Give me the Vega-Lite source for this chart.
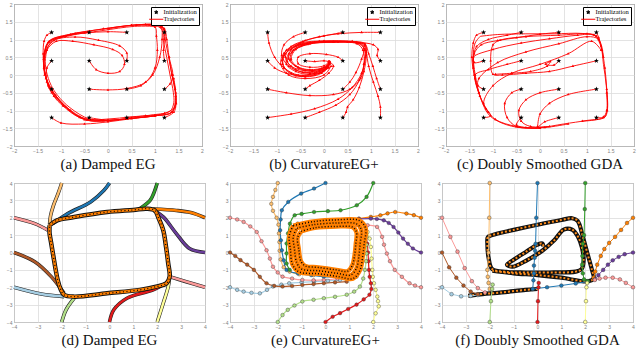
{
"$schema": "https://vega.github.io/schema/vega-lite/v6.json",
"padding": {"left": 1, "top": 1, "right": 0, "bottom": 0},
"background": "white",
"config": {
  "font": "Liberation Serif",
  "view": {"stroke": "#333333", "strokeWidth": 1},
  "axis": {"domain": false, "ticks": false, "tickSize": 0, "grid": true, "gridColor": "#dcdcdc", "gridWidth": 0.8, "labelFontSize": 5, "labelColor": "#808080", "labelPadding": 2, "labelFont": "Liberation Sans", "labelFlush": false, "labelOverlap": false, "format": "~g"},
  "title": {"orient": "bottom", "font": "Liberation Serif", "fontSize": 15, "fontWeight": "normal", "offset": 4, "color": "#111111"}
},
"datasets": {
"a": [
{"t":1,"i":0,"x":-1.2,"y":1.2},{"t":1,"i":1,"x":-1.3,"y":1.12},{"t":1,"i":2,"x":-1.36,"y":0.95},{"t":1,"i":3,"x":-1.38,"y":0.6},{"t":1,"i":4,"x":-1.36,"y":0.2},{"t":1,"i":5,"x":-1.27,"y":-0.3},{"t":1,"i":6,"x":-1.1,"y":-0.62},{"t":1,"i":7,"x":-0.84,"y":-0.97},{"t":1,"i":8,"x":-0.45,"y":-1.27},{"t":1,"i":9,"x":0,"y":-1.29},
{"t":2,"i":0,"x":-0.4,"y":1.2},{"t":2,"i":1,"x":-0.7,"y":1.17},{"t":2,"i":2,"x":-1.0,"y":1.07},{"t":2,"i":3,"x":-1.27,"y":0.92},{"t":2,"i":4,"x":-1.36,"y":0.5},{"t":2,"i":5,"x":-1.33,"y":0.0},{"t":2,"i":6,"x":-1.2,"y":-0.4},{"t":2,"i":7,"x":-0.9,"y":-0.9},{"t":2,"i":8,"x":-0.5,"y":-1.26},{"t":2,"i":9,"x":0.0,"y":-1.28},
{"t":3,"i":0,"x":0.4,"y":1.2},{"t":3,"i":1,"x":0.0,"y":1.22},{"t":3,"i":2,"x":-0.5,"y":1.18},{"t":3,"i":3,"x":-0.9,"y":1.1},{"t":3,"i":4,"x":-1.25,"y":0.93},{"t":3,"i":5,"x":-1.36,"y":0.5},{"t":3,"i":6,"x":-1.32,"y":-0.1},{"t":3,"i":7,"x":-1.12,"y":-0.58},{"t":3,"i":8,"x":-0.8,"y":-1.0},
{"t":4,"i":0,"x":1.2,"y":1.2},{"t":4,"i":1,"x":1.15,"y":1.35},{"t":4,"i":2,"x":1.0,"y":1.42},{"t":4,"i":3,"x":0.5,"y":1.4},{"t":4,"i":4,"x":-0.1,"y":1.3},{"t":4,"i":5,"x":-0.8,"y":1.14},{"t":4,"i":6,"x":-1.25,"y":0.95},{"t":4,"i":7,"x":-1.37,"y":0.45},
{"t":5,"i":0,"x":-1.2,"y":0.4},{"t":5,"i":1,"x":-1.3,"y":0.2},{"t":5,"i":2,"x":-1.3,"y":-0.2},{"t":5,"i":3,"x":-1.2,"y":-0.5},{"t":5,"i":4,"x":-0.95,"y":-0.85},{"t":5,"i":5,"x":-0.6,"y":-1.18},{"t":5,"i":6,"x":-0.1,"y":-1.28},{"t":5,"i":7,"x":0.5,"y":-1.22},
{"t":6,"i":0,"x":-0.4,"y":0.4},{"t":6,"i":1,"x":-0.25,"y":0.15},{"t":6,"i":2,"x":0.0,"y":0.05},{"t":6,"i":3,"x":0.25,"y":0.1},{"t":6,"i":4,"x":0.35,"y":0.3},{"t":6,"i":5,"x":0.3,"y":0.55},{"t":6,"i":6,"x":0.1,"y":0.72},{"t":6,"i":7,"x":-0.3,"y":0.85},{"t":6,"i":8,"x":-0.75,"y":0.95},{"t":6,"i":9,"x":-1.1,"y":0.95},{"t":6,"i":10,"x":-1.3,"y":0.7},{"t":6,"i":11,"x":-1.36,"y":0.2},{"t":6,"i":12,"x":-1.25,"y":-0.35},
{"t":7,"i":0,"x":0.4,"y":0.4},{"t":7,"i":1,"x":0.4,"y":0.62},{"t":7,"i":2,"x":0.25,"y":0.82},{"t":7,"i":3,"x":-0.2,"y":0.98},{"t":7,"i":4,"x":-0.7,"y":1.07},{"t":7,"i":5,"x":-1.15,"y":0.97},{"t":7,"i":6,"x":-1.35,"y":0.6},{"t":7,"i":7,"x":-1.35,"y":0.0},
{"t":8,"i":0,"x":1.2,"y":0.4},{"t":8,"i":1,"x":1.18,"y":0.7},{"t":8,"i":2,"x":1.2,"y":1.0},{"t":8,"i":3,"x":1.18,"y":1.3},{"t":8,"i":4,"x":1.05,"y":1.41},{"t":8,"i":5,"x":0.5,"y":1.4},{"t":8,"i":6,"x":0.0,"y":1.3},
{"t":9,"i":0,"x":-1.2,"y":-0.4},{"t":9,"i":1,"x":-1.15,"y":-0.6},{"t":9,"i":2,"x":-0.95,"y":-0.88},{"t":9,"i":3,"x":-0.6,"y":-1.2},{"t":9,"i":4,"x":-0.1,"y":-1.28},{"t":9,"i":5,"x":0.5,"y":-1.22},{"t":9,"i":6,"x":1.0,"y":-1.15},
{"t":10,"i":0,"x":-0.4,"y":-0.4},{"t":10,"i":1,"x":0.0,"y":-0.42},{"t":10,"i":2,"x":0.4,"y":-0.38},{"t":10,"i":3,"x":0.8,"y":-0.2},{"t":10,"i":4,"x":1.0,"y":0.2},{"t":10,"i":5,"x":1.05,"y":0.7},{"t":10,"i":6,"x":1.03,"y":1.1},{"t":10,"i":7,"x":1.0,"y":1.35},{"t":10,"i":8,"x":0.6,"y":1.4},
{"t":11,"i":0,"x":0.4,"y":-0.4},{"t":11,"i":1,"x":0.7,"y":-0.3},{"t":11,"i":2,"x":0.95,"y":0.0},{"t":11,"i":3,"x":1.1,"y":0.5},{"t":11,"i":4,"x":1.15,"y":1.0},{"t":11,"i":5,"x":1.12,"y":1.35},{"t":11,"i":6,"x":0.8,"y":1.42},
{"t":12,"i":0,"x":1.2,"y":-0.4},{"t":12,"i":1,"x":1.32,"y":-0.25},{"t":12,"i":2,"x":1.38,"y":0.0},{"t":12,"i":3,"x":1.3,"y":0.5},{"t":12,"i":4,"x":1.25,"y":1.0},{"t":12,"i":5,"x":1.2,"y":1.3},{"t":12,"i":6,"x":1.05,"y":1.42},
{"t":13,"i":0,"x":-1.2,"y":-1.2},{"t":13,"i":1,"x":-1.0,"y":-1.35},{"t":13,"i":2,"x":-0.5,"y":-1.38},{"t":13,"i":3,"x":0.0,"y":-1.32},{"t":13,"i":4,"x":0.5,"y":-1.23},{"t":13,"i":5,"x":1.0,"y":-1.15},{"t":13,"i":6,"x":1.35,"y":-1.05},{"t":13,"i":7,"x":1.44,"y":-0.8},
{"t":14,"i":0,"x":-0.4,"y":-1.2},{"t":14,"i":1,"x":0.0,"y":-1.27},{"t":14,"i":2,"x":0.5,"y":-1.22},{"t":14,"i":3,"x":1.0,"y":-1.15},{"t":14,"i":4,"x":1.36,"y":-1.05},{"t":14,"i":5,"x":1.44,"y":-0.6},{"t":14,"i":6,"x":1.4,"y":-0.1},
{"t":15,"i":0,"x":0.4,"y":-1.2},{"t":15,"i":1,"x":0.8,"y":-1.15},{"t":15,"i":2,"x":1.2,"y":-1.08},{"t":15,"i":3,"x":1.42,"y":-0.9},{"t":15,"i":4,"x":1.44,"y":-0.5},{"t":15,"i":5,"x":1.37,"y":0.0},
{"t":16,"i":0,"x":1.2,"y":-1.2},{"t":16,"i":1,"x":1.4,"y":-1.05},{"t":16,"i":2,"x":1.45,"y":-0.8},{"t":16,"i":3,"x":1.43,"y":-0.4},{"t":16,"i":4,"x":1.36,"y":0.0},{"t":16,"i":5,"x":1.3,"y":0.5},
{"t":20,"i":0,"x":1.09,"y":1.41},{"t":20,"i":1,"x":0.58,"y":1.41},{"t":20,"i":2,"x":-0.13,"y":1.29},{"t":20,"i":3,"x":-0.84,"y":1.14},{"t":20,"i":4,"x":-1.26,"y":0.95},{"t":20,"i":5,"x":-1.37,"y":0.48},{"t":20,"i":6,"x":-1.35,"y":0.1},{"t":20,"i":7,"x":-1.25,"y":-0.3},{"t":20,"i":8,"x":-1.1,"y":-0.6},{"t":20,"i":9,"x":-0.84,"y":-0.95},{"t":20,"i":10,"x":-0.4,"y":-1.28},{"t":20,"i":11,"x":0.0,"y":-1.28},{"t":20,"i":12,"x":0.5,"y":-1.22},{"t":20,"i":13,"x":1.0,"y":-1.15},{"t":20,"i":14,"x":1.36,"y":-1.05},{"t":20,"i":15,"x":1.44,"y":-0.8},{"t":20,"i":16,"x":1.43,"y":-0.5},{"t":20,"i":17,"x":1.36,"y":0.0},{"t":20,"i":18,"x":1.29,"y":0.5},{"t":20,"i":19,"x":1.22,"y":1.0},{"t":20,"i":20,"x":1.2,"y":1.3},{"t":20,"i":21,"x":1.09,"y":1.41},
{"t":21,"i":0,"x":1.06,"y":1.37},{"t":21,"i":1,"x":0.56,"y":1.37},{"t":21,"i":2,"x":-0.13,"y":1.25},{"t":21,"i":3,"x":-0.81,"y":1.11},{"t":21,"i":4,"x":-1.22,"y":0.92},{"t":21,"i":5,"x":-1.33,"y":0.47},{"t":21,"i":6,"x":-1.31,"y":0.1},{"t":21,"i":7,"x":-1.21,"y":-0.29},{"t":21,"i":8,"x":-1.07,"y":-0.58},{"t":21,"i":9,"x":-0.81,"y":-0.92},{"t":21,"i":10,"x":-0.39,"y":-1.24},{"t":21,"i":11,"x":0.0,"y":-1.24},{"t":21,"i":12,"x":0.49,"y":-1.18},{"t":21,"i":13,"x":0.97,"y":-1.12},{"t":21,"i":14,"x":1.32,"y":-1.02},{"t":21,"i":15,"x":1.4,"y":-0.78},{"t":21,"i":16,"x":1.39,"y":-0.49},{"t":21,"i":17,"x":1.32,"y":0.0},{"t":21,"i":18,"x":1.25,"y":0.49},{"t":21,"i":19,"x":1.18,"y":0.97},{"t":21,"i":20,"x":1.16,"y":1.26},{"t":21,"i":21,"x":1.06,"y":1.37}
],
"b": [
{"t":1,"i":0,"x":-1.2,"y":1.2},{"t":1,"i":1,"x":-1.17,"y":0.9},{"t":1,"i":2,"x":-1.05,"y":0.5},{"t":1,"i":3,"x":-0.85,"y":0.2},{"t":1,"i":4,"x":-0.55,"y":0.0},{"t":1,"i":5,"x":-0.2,"y":0.05},{"t":1,"i":6,"x":0.05,"y":0.2},{"t":1,"i":7,"x":0.12,"y":0.35},
{"t":2,"i":0,"x":-0.4,"y":1.2},{"t":2,"i":1,"x":-0.65,"y":1.08},{"t":2,"i":2,"x":-0.85,"y":0.85},{"t":2,"i":3,"x":-0.9,"y":0.55},{"t":2,"i":4,"x":-0.75,"y":0.25},{"t":2,"i":5,"x":-0.45,"y":0.08},{"t":2,"i":6,"x":-0.1,"y":0.12},{"t":2,"i":7,"x":0.1,"y":0.3},{"t":2,"i":8,"x":0.1,"y":0.38},
{"t":3,"i":0,"x":0.4,"y":1.2},{"t":3,"i":1,"x":0.0,"y":1.1},{"t":3,"i":2,"x":-0.4,"y":0.97},{"t":3,"i":3,"x":-0.7,"y":0.8},{"t":3,"i":4,"x":-0.82,"y":0.5},{"t":3,"i":5,"x":-0.7,"y":0.25},{"t":3,"i":6,"x":-0.4,"y":0.12},{"t":3,"i":7,"x":-0.05,"y":0.18},{"t":3,"i":8,"x":0.12,"y":0.33},
{"t":4,"i":0,"x":1.2,"y":1.2},{"t":4,"i":1,"x":0.8,"y":1.2},{"t":4,"i":2,"x":0.3,"y":1.16},{"t":4,"i":3,"x":-0.1,"y":1.08},{"t":4,"i":4,"x":-0.45,"y":0.94},{"t":4,"i":5,"x":-0.7,"y":0.72},{"t":4,"i":6,"x":-0.75,"y":0.45},{"t":4,"i":7,"x":-0.6,"y":0.25},{"t":4,"i":8,"x":-0.3,"y":0.15},{"t":4,"i":9,"x":0.0,"y":0.22},{"t":4,"i":10,"x":0.12,"y":0.36},
{"t":5,"i":0,"x":-1.2,"y":0.4},{"t":5,"i":1,"x":-1.05,"y":0.2},{"t":5,"i":2,"x":-0.8,"y":0.05},{"t":5,"i":3,"x":-0.45,"y":-0.02},{"t":5,"i":4,"x":-0.1,"y":0.05},{"t":5,"i":5,"x":0.1,"y":0.22},{"t":5,"i":6,"x":0.12,"y":0.38},
{"t":6,"i":0,"x":-0.4,"y":0.4},{"t":6,"i":1,"x":-0.2,"y":0.38},{"t":6,"i":2,"x":0.0,"y":0.4},{"t":6,"i":3,"x":0.1,"y":0.38},
{"t":7,"i":0,"x":0.4,"y":0.4},{"t":7,"i":1,"x":0.3,"y":0.5},{"t":7,"i":2,"x":0.05,"y":0.58},{"t":7,"i":3,"x":-0.3,"y":0.6},{"t":7,"i":4,"x":-0.55,"y":0.5},{"t":7,"i":5,"x":-0.55,"y":0.32},{"t":7,"i":6,"x":-0.3,"y":0.22},{"t":7,"i":7,"x":0.0,"y":0.26},{"t":7,"i":8,"x":0.1,"y":0.36},
{"t":8,"i":0,"x":1.2,"y":0.4},{"t":8,"i":1,"x":1.13,"y":0.55},{"t":8,"i":2,"x":1.15,"y":0.72},{"t":8,"i":3,"x":1.05,"y":0.85},{"t":8,"i":4,"x":0.7,"y":0.92},{"t":8,"i":5,"x":0.2,"y":0.93},{"t":8,"i":6,"x":-0.3,"y":0.88},{"t":8,"i":7,"x":-0.6,"y":0.72},{"t":8,"i":8,"x":-0.7,"y":0.45},{"t":8,"i":9,"x":-0.55,"y":0.22},{"t":8,"i":10,"x":-0.25,"y":0.13},{"t":8,"i":11,"x":0.05,"y":0.22},{"t":8,"i":12,"x":0.12,"y":0.36},
{"t":9,"i":0,"x":-1.2,"y":-0.4},{"t":9,"i":1,"x":-0.8,"y":-0.5},{"t":9,"i":2,"x":-0.3,"y":-0.58},{"t":9,"i":3,"x":0.2,"y":-0.55},{"t":9,"i":4,"x":0.55,"y":-0.4},{"t":9,"i":5,"x":0.78,"y":-0.1},{"t":9,"i":6,"x":0.85,"y":0.3},{"t":9,"i":7,"x":0.83,"y":0.7},{"t":9,"i":8,"x":0.7,"y":0.88},{"t":9,"i":9,"x":0.2,"y":0.92},{"t":9,"i":10,"x":-0.35,"y":0.86},{"t":9,"i":11,"x":-0.68,"y":0.65},{"t":9,"i":12,"x":-0.78,"y":0.38},{"t":9,"i":13,"x":-0.6,"y":0.15},{"t":9,"i":14,"x":-0.3,"y":0.05},{"t":9,"i":15,"x":0.0,"y":0.15},{"t":9,"i":16,"x":0.12,"y":0.35},
{"t":10,"i":0,"x":-0.4,"y":-0.4},{"t":10,"i":1,"x":-0.3,"y":-0.3},{"t":10,"i":2,"x":-0.1,"y":-0.15},{"t":10,"i":3,"x":0.1,"y":0.05},{"t":10,"i":4,"x":0.2,"y":0.25},{"t":10,"i":5,"x":0.12,"y":0.38},
{"t":11,"i":0,"x":0.4,"y":-0.4},{"t":11,"i":1,"x":0.55,"y":-0.2},{"t":11,"i":2,"x":0.68,"y":0.07},{"t":11,"i":3,"x":0.8,"y":0.45},{"t":11,"i":4,"x":0.85,"y":0.75},{"t":11,"i":5,"x":0.7,"y":0.9},{"t":11,"i":6,"x":0.2,"y":0.93},{"t":11,"i":7,"x":-0.35,"y":0.88},{"t":11,"i":8,"x":-0.65,"y":0.7},{"t":11,"i":9,"x":-0.72,"y":0.42},{"t":11,"i":10,"x":-0.55,"y":0.2},{"t":11,"i":11,"x":-0.25,"y":0.1},{"t":11,"i":12,"x":0.05,"y":0.2},{"t":11,"i":13,"x":0.12,"y":0.36},
{"t":12,"i":0,"x":1.2,"y":-0.4},{"t":12,"i":1,"x":1.12,"y":-0.1},{"t":12,"i":2,"x":1.04,"y":0.25},{"t":12,"i":3,"x":0.95,"y":0.6},{"t":12,"i":4,"x":0.88,"y":0.85},{"t":12,"i":5,"x":0.6,"y":0.93},{"t":12,"i":6,"x":0.0,"y":0.93},{"t":12,"i":7,"x":-0.45,"y":0.85},{"t":12,"i":8,"x":-0.75,"y":0.6},{"t":12,"i":9,"x":-0.8,"y":0.3},{"t":12,"i":10,"x":-0.6,"y":0.1},{"t":12,"i":11,"x":-0.3,"y":0.02},{"t":12,"i":12,"x":0.0,"y":0.12},{"t":12,"i":13,"x":0.12,"y":0.32},
{"t":13,"i":0,"x":-1.2,"y":-1.2},{"t":13,"i":1,"x":-0.7,"y":-1.1},{"t":13,"i":2,"x":-0.2,"y":-0.95},{"t":13,"i":3,"x":0.3,"y":-0.68},{"t":13,"i":4,"x":0.6,"y":-0.35},{"t":13,"i":5,"x":0.8,"y":0.05},{"t":13,"i":6,"x":0.88,"y":0.5},{"t":13,"i":7,"x":0.86,"y":0.82},{"t":13,"i":8,"x":0.6,"y":0.93},{"t":13,"i":9,"x":0.0,"y":0.94},{"t":13,"i":10,"x":-0.5,"y":0.86},{"t":13,"i":11,"x":-0.82,"y":0.6},{"t":13,"i":12,"x":-0.88,"y":0.3},{"t":13,"i":13,"x":-0.7,"y":0.05},{"t":13,"i":14,"x":-0.4,"y":-0.05},{"t":13,"i":15,"x":-0.05,"y":0.05},{"t":13,"i":16,"x":0.12,"y":0.3},
{"t":14,"i":0,"x":-0.4,"y":-1.2},{"t":14,"i":1,"x":-0.1,"y":-1.05},{"t":14,"i":2,"x":0.25,"y":-0.85},{"t":14,"i":3,"x":0.55,"y":-0.55},{"t":14,"i":4,"x":0.75,"y":-0.15},{"t":14,"i":5,"x":0.85,"y":0.3},{"t":14,"i":6,"x":0.87,"y":0.7},{"t":14,"i":7,"x":0.75,"y":0.9},{"t":14,"i":8,"x":0.3,"y":0.93},{"t":14,"i":9,"x":-0.2,"y":0.92},{"t":14,"i":10,"x":-0.6,"y":0.8},{"t":14,"i":11,"x":-0.85,"y":0.55},{"t":14,"i":12,"x":-0.85,"y":0.2},{"t":14,"i":13,"x":-0.6,"y":-0.02},{"t":14,"i":14,"x":-0.2,"y":0.0},{"t":14,"i":15,"x":0.1,"y":0.2},
{"t":15,"i":0,"x":0.4,"y":-1.2},{"t":15,"i":1,"x":0.47,"y":-1.05},{"t":15,"i":2,"x":0.5,"y":-0.9},{"t":15,"i":3,"x":0.62,"y":-0.7},{"t":15,"i":4,"x":0.75,"y":-0.35},{"t":15,"i":5,"x":0.85,"y":0.1},{"t":15,"i":6,"x":0.9,"y":0.55},{"t":15,"i":7,"x":0.87,"y":0.85},{"t":15,"i":8,"x":0.5,"y":0.93},{"t":15,"i":9,"x":-0.1,"y":0.95},{"t":15,"i":10,"x":-0.55,"y":0.85},{"t":15,"i":11,"x":-0.85,"y":0.62},{"t":15,"i":12,"x":-0.92,"y":0.3},{"t":15,"i":13,"x":-0.75,"y":0.0},{"t":15,"i":14,"x":-0.4,"y":-0.1},{"t":15,"i":15,"x":0.0,"y":0.0},{"t":15,"i":16,"x":0.15,"y":0.25},
{"t":16,"i":0,"x":1.2,"y":-1.2},{"t":16,"i":1,"x":1.2,"y":-0.9},{"t":16,"i":2,"x":1.15,"y":-0.6},{"t":16,"i":3,"x":1.05,"y":-0.2},{"t":16,"i":4,"x":0.95,"y":0.25},{"t":16,"i":5,"x":0.9,"y":0.65},{"t":16,"i":6,"x":0.87,"y":0.88},{"t":16,"i":7,"x":0.6,"y":0.95},{"t":16,"i":8,"x":0.0,"y":0.96},{"t":16,"i":9,"x":-0.5,"y":0.9},{"t":16,"i":10,"x":-0.8,"y":0.7},{"t":16,"i":11,"x":-0.9,"y":0.4}
],
"c": [
{"t":1,"i":0,"x":-1.2,"y":1.2},{"t":1,"i":1,"x":-1.35,"y":1.12},{"t":1,"i":2,"x":-1.42,"y":0.9},{"t":1,"i":3,"x":-1.45,"y":0.5},{"t":1,"i":4,"x":-1.4,"y":0.0},{"t":1,"i":5,"x":-1.3,"y":-0.5},{"t":1,"i":6,"x":-1.15,"y":-0.95},{"t":1,"i":7,"x":-0.95,"y":-1.25},{"t":1,"i":8,"x":-0.5,"y":-1.45},{"t":1,"i":9,"x":0.0,"y":-1.5},
{"t":2,"i":0,"x":-0.4,"y":1.2},{"t":2,"i":1,"x":-0.7,"y":1.12},{"t":2,"i":2,"x":-1.1,"y":1.0},{"t":2,"i":3,"x":-1.35,"y":0.8},{"t":2,"i":4,"x":-1.42,"y":0.4},{"t":2,"i":5,"x":-1.38,"y":-0.1},{"t":2,"i":6,"x":-1.28,"y":-0.6},{"t":2,"i":7,"x":-1.1,"y":-1.05},
{"t":3,"i":0,"x":0.4,"y":1.2},{"t":3,"i":1,"x":0.0,"y":1.15},{"t":3,"i":2,"x":-0.5,"y":1.05},{"t":3,"i":3,"x":-0.9,"y":0.97},{"t":3,"i":4,"x":-1.25,"y":0.85},{"t":3,"i":5,"x":-1.4,"y":0.6},{"t":3,"i":6,"x":-1.42,"y":0.2},
{"t":4,"i":0,"x":1.2,"y":1.2},{"t":4,"i":1,"x":1.25,"y":1.05},{"t":4,"i":2,"x":1.32,"y":0.7},{"t":4,"i":3,"x":1.38,"y":0.2},{"t":4,"i":4,"x":1.42,"y":-0.4},{"t":4,"i":5,"x":1.43,"y":-1.0},{"t":4,"i":6,"x":1.35,"y":-1.2},{"t":4,"i":7,"x":0.9,"y":-1.3},
{"t":5,"i":0,"x":-1.2,"y":0.4},{"t":5,"i":1,"x":-1.4,"y":0.35},{"t":5,"i":2,"x":-1.42,"y":0.5},{"t":5,"i":3,"x":-1.0,"y":0.72},{"t":5,"i":4,"x":-0.4,"y":0.9},{"t":5,"i":5,"x":0.2,"y":1.02},{"t":5,"i":6,"x":0.8,"y":1.12},{"t":5,"i":7,"x":1.15,"y":1.13},{"t":5,"i":8,"x":1.3,"y":0.8},
{"t":6,"i":0,"x":-0.4,"y":0.4},{"t":6,"i":1,"x":-0.7,"y":0.3},{"t":6,"i":2,"x":-1.1,"y":0.15},{"t":6,"i":3,"x":-1.38,"y":0.0},{"t":6,"i":4,"x":-1.3,"y":-0.5},
{"t":7,"i":0,"x":0.4,"y":0.4},{"t":7,"i":1,"x":0.3,"y":0.28},{"t":7,"i":2,"x":0.12,"y":0.3},{"t":7,"i":3,"x":0.22,"y":0.38},{"t":7,"i":4,"x":0.15,"y":0.25},{"t":7,"i":5,"x":-0.2,"y":0.1},{"t":7,"i":6,"x":-0.6,"y":0.05},{"t":7,"i":7,"x":-0.95,"y":0.02},
{"t":8,"i":0,"x":1.2,"y":0.4},{"t":8,"i":1,"x":0.7,"y":0.25},{"t":8,"i":2,"x":0.2,"y":0.1},{"t":8,"i":3,"x":-0.3,"y":0.05},{"t":8,"i":4,"x":-0.8,"y":0.0},{"t":8,"i":5,"x":-1.0,"y":0.02},{"t":8,"i":6,"x":-1.05,"y":0.4},{"t":8,"i":7,"x":-1.0,"y":0.85},{"t":8,"i":8,"x":-0.85,"y":0.98},{"t":8,"i":9,"x":-0.3,"y":1.08},{"t":8,"i":10,"x":0.4,"y":1.12},{"t":8,"i":11,"x":1.0,"y":1.16},{"t":8,"i":12,"x":1.2,"y":1.1},
{"t":9,"i":0,"x":-1.2,"y":-0.4},{"t":9,"i":1,"x":-1.32,"y":-0.3},{"t":9,"i":2,"x":-1.3,"y":-0.1},{"t":9,"i":3,"x":-0.9,"y":0.35},{"t":9,"i":4,"x":-0.3,"y":0.65},{"t":9,"i":5,"x":0.4,"y":0.88},{"t":9,"i":6,"x":1.0,"y":1.08},{"t":9,"i":7,"x":1.25,"y":1.0},{"t":9,"i":8,"x":1.35,"y":0.5},
{"t":10,"i":0,"x":-0.4,"y":-0.4},{"t":10,"i":1,"x":-0.6,"y":-0.5},{"t":10,"i":2,"x":-0.75,"y":-0.8},{"t":10,"i":3,"x":-0.7,"y":-1.2},{"t":10,"i":4,"x":-0.5,"y":-1.45},{"t":10,"i":5,"x":0.0,"y":-1.5},
{"t":11,"i":0,"x":0.4,"y":-0.4},{"t":11,"i":1,"x":0.0,"y":-0.5},{"t":11,"i":2,"x":-0.3,"y":-0.7},{"t":11,"i":3,"x":-0.45,"y":-1.0},{"t":11,"i":4,"x":-0.4,"y":-1.3},{"t":11,"i":5,"x":-0.2,"y":-1.45},{"t":11,"i":6,"x":0.2,"y":-1.45},
{"t":12,"i":0,"x":1.2,"y":-0.4},{"t":12,"i":1,"x":0.6,"y":-0.55},{"t":12,"i":2,"x":0.2,"y":-0.8},{"t":12,"i":3,"x":0.0,"y":-1.1},{"t":12,"i":4,"x":-0.05,"y":-1.45},
{"t":13,"i":0,"x":-1.2,"y":-1.2},{"t":13,"i":1,"x":-1.05,"y":-1.15},{"t":13,"i":2,"x":-1.2,"y":-0.8},{"t":13,"i":3,"x":-1.0,"y":-0.3},{"t":13,"i":4,"x":-0.6,"y":0.05},{"t":13,"i":5,"x":0.0,"y":0.3},{"t":13,"i":6,"x":0.6,"y":0.6},{"t":13,"i":7,"x":1.1,"y":0.95},{"t":13,"i":8,"x":1.3,"y":0.7},
{"t":14,"i":0,"x":-0.4,"y":-1.2},{"t":14,"i":1,"x":-0.5,"y":-1.4},{"t":14,"i":2,"x":-0.3,"y":-1.48},{"t":14,"i":3,"x":0.1,"y":-1.48},{"t":14,"i":4,"x":0.6,"y":-1.38},
{"t":15,"i":0,"x":0.4,"y":-1.2},{"t":15,"i":1,"x":0.1,"y":-1.32},{"t":15,"i":2,"x":-0.05,"y":-1.48},
{"t":16,"i":0,"x":1.2,"y":-1.2},{"t":16,"i":1,"x":1.35,"y":-1.18},{"t":16,"i":2,"x":1.42,"y":-1.0},{"t":16,"i":3,"x":1.42,"y":-0.5},
{"t":20,"i":0,"x":-1.27,"y":1.09},{"t":20,"i":1,"x":-0.9,"y":1.14},{"t":20,"i":2,"x":-0.3,"y":1.16},{"t":20,"i":3,"x":0.3,"y":1.16},{"t":20,"i":4,"x":0.9,"y":1.17},{"t":20,"i":5,"x":1.2,"y":1.09},{"t":20,"i":6,"x":1.3,"y":0.8},{"t":20,"i":7,"x":1.35,"y":0.3},{"t":20,"i":8,"x":1.41,"y":-0.3},{"t":20,"i":9,"x":1.43,"y":-1.0},{"t":20,"i":10,"x":1.38,"y":-1.19},{"t":20,"i":11,"x":1.0,"y":-1.28},{"t":20,"i":12,"x":0.5,"y":-1.38},{"t":20,"i":13,"x":0.0,"y":-1.48},{"t":20,"i":14,"x":-0.5,"y":-1.47},{"t":20,"i":15,"x":-0.9,"y":-1.3},{"t":20,"i":16,"x":-1.1,"y":-1.1},{"t":20,"i":17,"x":-1.25,"y":-0.7},{"t":20,"i":18,"x":-1.35,"y":-0.2},{"t":20,"i":19,"x":-1.42,"y":0.5},{"t":20,"i":20,"x":-1.38,"y":0.9},{"t":20,"i":21,"x":-1.27,"y":1.09}
],
"d": [
{"t":1,"i":0,"x":-2,"y":4},{"t":1,"i":1,"x":-2.15,"y":3.4},{"t":1,"i":2,"x":-2.35,"y":2.7},{"t":1,"i":3,"x":-2.47,"y":2.1},{"t":1,"i":4,"x":-2.51,"y":1.6},
{"t":2,"i":0,"x":0,"y":4},{"t":2,"i":1,"x":-0.23,"y":3.58},{"t":2,"i":2,"x":-0.79,"y":2.91},{"t":2,"i":3,"x":-1.75,"y":2.24},{"t":2,"i":4,"x":-2.37,"y":1.66},
{"t":3,"i":0,"x":2,"y":4},{"t":3,"i":1,"x":1.85,"y":3.4},{"t":3,"i":2,"x":1.7,"y":3.0},{"t":3,"i":3,"x":1.28,"y":2.53},
{"t":4,"i":0,"x":4,"y":2},{"t":4,"i":1,"x":3.4,"y":2.3},{"t":4,"i":2,"x":2.8,"y":2.42},{"t":4,"i":3,"x":1.83,"y":2.5},
{"t":5,"i":0,"x":4,"y":0},{"t":5,"i":1,"x":3.35,"y":0.23},{"t":5,"i":2,"x":2.8,"y":1.09},{"t":5,"i":3,"x":2.25,"y":2.05},{"t":5,"i":4,"x":1.85,"y":2.42},
{"t":6,"i":0,"x":4,"y":-2},{"t":6,"i":1,"x":3.21,"y":-1.68},{"t":6,"i":2,"x":2.52,"y":-1.39},
{"t":7,"i":0,"x":2,"y":-4},{"t":7,"i":1,"x":2.25,"y":-2.92},{"t":7,"i":2,"x":2.46,"y":-1.97},{"t":7,"i":3,"x":2.52,"y":-1.4},
{"t":8,"i":0,"x":0,"y":-4},{"t":8,"i":1,"x":0.18,"y":-3.3},{"t":8,"i":2,"x":0.73,"y":-2.63},{"t":8,"i":3,"x":1.83,"y":-2.15},{"t":8,"i":4,"x":2.46,"y":-1.68},
{"t":9,"i":0,"x":-2,"y":-4},{"t":9,"i":1,"x":-1.82,"y":-3.3},{"t":9,"i":2,"x":-1.48,"y":-2.63},
{"t":10,"i":0,"x":-4,"y":-2},{"t":10,"i":1,"x":-2.86,"y":-2.39},{"t":10,"i":2,"x":-1.9,"y":-2.54},
{"t":11,"i":0,"x":-4,"y":0},{"t":11,"i":1,"x":-3.13,"y":-0.53},{"t":11,"i":2,"x":-2.44,"y":-1.39},{"t":11,"i":3,"x":-1.9,"y":-2.35},
{"t":12,"i":0,"x":-4,"y":2},{"t":12,"i":1,"x":-3.13,"y":1.66},{"t":12,"i":2,"x":-2.58,"y":1.28}
],
"dc": [
{"k":1,"i":0,"x":-2.51,"y":1.56},{"k":1,"i":1,"x":-2.2,"y":1.85},{"k":1,"i":2,"x":-1.48,"y":2.04},{"k":1,"i":3,"x":-0.1,"y":2.33},{"k":1,"i":4,"x":1.0,"y":2.45},{"k":1,"i":5,"x":1.56,"y":2.52},{"k":1,"i":6,"x":1.9,"y":2.42},{"k":1,"i":7,"x":2.05,"y":2.0},{"k":1,"i":8,"x":2.25,"y":1.28},{"k":1,"i":9,"x":2.37,"y":0.3},{"k":1,"i":10,"x":2.46,"y":-0.63},{"k":1,"i":11,"x":2.52,"y":-1.39},{"k":1,"i":12,"x":2.39,"y":-1.77},{"k":1,"i":13,"x":2.0,"y":-1.95},{"k":1,"i":14,"x":1.28,"y":-2.15},{"k":1,"i":15,"x":-0.1,"y":-2.35},{"k":1,"i":16,"x":-1.48,"y":-2.54},{"k":1,"i":17,"x":-1.9,"y":-2.44},{"k":1,"i":18,"x":-2.05,"y":-2.1},{"k":1,"i":19,"x":-2.17,"y":-1.58},{"k":1,"i":20,"x":-2.37,"y":-0.06},{"k":1,"i":21,"x":-2.45,"y":0.6},{"k":1,"i":22,"x":-2.51,"y":1.09},{"k":1,"i":23,"x":-2.51,"y":1.56}
],
"e": [
{"t":1,"i":0,"x":-2,"y":4},{"t":1,"i":1,"x":-2.1,"y":3.6},{"t":1,"i":2,"x":-2.2,"y":3.2},{"t":1,"i":3,"x":-2.27,"y":2.8},{"t":1,"i":4,"x":-2.2,"y":2.4},{"t":1,"i":5,"x":-2.05,"y":2.0},{"t":1,"i":6,"x":-1.97,"y":1.6},{"t":1,"i":7,"x":-1.95,"y":1.1},{"t":1,"i":8,"x":-1.93,"y":0.6},{"t":1,"i":9,"x":-1.92,"y":0.1},{"t":1,"i":10,"x":-1.88,"y":-0.4},{"t":1,"i":11,"x":-1.75,"y":-0.85},{"t":1,"i":12,"x":-1.5,"y":-1.1},{"t":1,"i":13,"x":-1.1,"y":-1.25},{"t":1,"i":14,"x":-0.5,"y":-1.3},
{"t":2,"i":0,"x":0,"y":4},{"t":2,"i":1,"x":-0.48,"y":3.68},{"t":2,"i":2,"x":-1.02,"y":3.39},{"t":2,"i":3,"x":-1.56,"y":2.91},{"t":2,"i":4,"x":-1.83,"y":2.43},{"t":2,"i":5,"x":-1.88,"y":1.9},{"t":2,"i":6,"x":-1.9,"y":1.28},{"t":2,"i":7,"x":-1.87,"y":0.7},{"t":2,"i":8,"x":-1.83,"y":0.13},{"t":2,"i":9,"x":-1.75,"y":-0.45},{"t":2,"i":10,"x":-1.63,"y":-1.0},{"t":2,"i":11,"x":-1.16,"y":-1.2},{"t":2,"i":12,"x":-0.6,"y":-1.3},{"t":2,"i":13,"x":-0.07,"y":-1.39},{"t":2,"i":14,"x":0.5,"y":-1.4},{"t":2,"i":15,"x":0.89,"y":-1.39},
{"t":3,"i":0,"x":2,"y":4},{"t":3,"i":1,"x":1.72,"y":3.2},{"t":3,"i":2,"x":1.31,"y":2.72},{"t":3,"i":3,"x":0.63,"y":2.43},{"t":3,"i":4,"x":0.1,"y":2.38},{"t":3,"i":5,"x":-0.48,"y":2.33},{"t":3,"i":6,"x":-1.0,"y":2.22},{"t":3,"i":7,"x":-1.29,"y":2.14},{"t":3,"i":8,"x":-1.49,"y":1.66},{"t":3,"i":9,"x":-1.57,"y":1.1},{"t":3,"i":10,"x":-1.63,"y":0.52},{"t":3,"i":11,"x":-1.63,"y":-0.05},{"t":3,"i":12,"x":-1.63,"y":-0.63},{"t":3,"i":13,"x":-1.5,"y":-1.0},
{"t":4,"i":0,"x":4,"y":2},{"t":4,"i":1,"x":3.7,"y":2.15},{"t":4,"i":2,"x":3.39,"y":2.24},{"t":4,"i":3,"x":2.92,"y":2.33},{"t":4,"i":4,"x":2.6,"y":2.25},{"t":4,"i":5,"x":2.3,"y":2.14},{"t":4,"i":6,"x":1.9,"y":2.05},{"t":4,"i":7,"x":1.4,"y":1.95},{"t":4,"i":8,"x":0.94,"y":1.85},{"t":4,"i":9,"x":0.2,"y":1.8},{"t":4,"i":10,"x":-0.48,"y":1.76},{"t":4,"i":11,"x":-1.16,"y":1.66},
{"t":5,"i":0,"x":4,"y":0},{"t":5,"i":1,"x":3.66,"y":0.23},{"t":5,"i":2,"x":3.45,"y":0.5},{"t":5,"i":3,"x":3.25,"y":0.8},{"t":5,"i":4,"x":3.05,"y":1.15},{"t":5,"i":5,"x":2.85,"y":1.47},{"t":5,"i":6,"x":2.65,"y":1.7},{"t":5,"i":7,"x":2.44,"y":1.85},{"t":5,"i":8,"x":2.15,"y":1.93},{"t":5,"i":9,"x":1.9,"y":1.95},{"t":5,"i":10,"x":1.4,"y":1.93},{"t":5,"i":11,"x":0.9,"y":1.88},{"t":5,"i":12,"x":0.3,"y":1.83},
{"t":6,"i":0,"x":4,"y":-2},{"t":6,"i":1,"x":3.75,"y":-1.9},{"t":6,"i":2,"x":3.52,"y":-1.77},{"t":6,"i":3,"x":3.2,"y":-1.4},{"t":6,"i":4,"x":2.9,"y":-1.0},{"t":6,"i":5,"x":2.7,"y":-0.5},{"t":6,"i":6,"x":2.57,"y":-0.06},{"t":6,"i":7,"x":2.45,"y":0.45},{"t":6,"i":8,"x":2.37,"y":0.9},{"t":6,"i":9,"x":2.16,"y":1.47},{"t":6,"i":10,"x":1.76,"y":1.57},{"t":6,"i":11,"x":1.3,"y":1.6},
{"t":7,"i":0,"x":2,"y":-4},{"t":7,"i":1,"x":2.1,"y":-3.5},{"t":7,"i":2,"x":2.23,"y":-3.1},{"t":7,"i":3,"x":2.2,"y":-2.8},{"t":7,"i":4,"x":2.17,"y":-2.54},{"t":7,"i":5,"x":2.1,"y":-2.15},{"t":7,"i":6,"x":2.03,"y":-1.77},{"t":7,"i":7,"x":1.98,"y":-1.4},{"t":7,"i":8,"x":1.96,"y":-1.0},{"t":7,"i":9,"x":1.93,"y":-0.35},{"t":7,"i":10,"x":1.9,"y":0.32},{"t":7,"i":11,"x":1.85,"y":0.8},{"t":7,"i":12,"x":1.76,"y":1.18},
{"t":8,"i":0,"x":0,"y":-4},{"t":8,"i":1,"x":0.3,"y":-3.7},{"t":8,"i":2,"x":0.61,"y":-3.49},{"t":8,"i":3,"x":0.95,"y":-3.25},{"t":8,"i":4,"x":1.3,"y":-3.0},{"t":8,"i":5,"x":1.6,"y":-2.7},{"t":8,"i":6,"x":1.84,"y":-2.43},{"t":8,"i":7,"x":1.92,"y":-2.1},{"t":8,"i":8,"x":1.9,"y":-1.77},{"t":8,"i":9,"x":1.85,"y":-1.4},{"t":8,"i":10,"x":1.82,"y":-1.0},{"t":8,"i":11,"x":1.8,"y":-0.5},{"t":8,"i":12,"x":1.78,"y":0.0},{"t":8,"i":13,"x":1.75,"y":0.5},{"t":8,"i":14,"x":1.7,"y":1.0},
{"t":9,"i":0,"x":-2,"y":-4},{"t":9,"i":1,"x":-1.8,"y":-3.6},{"t":9,"i":2,"x":-1.58,"y":-3.3},{"t":9,"i":3,"x":-1.3,"y":-3.05},{"t":9,"i":4,"x":-0.97,"y":-2.82},{"t":9,"i":5,"x":-0.5,"y":-2.72},{"t":9,"i":6,"x":-0.07,"y":-2.63},{"t":9,"i":7,"x":0.4,"y":-2.55},{"t":9,"i":8,"x":0.89,"y":-2.43},{"t":9,"i":9,"x":1.2,"y":-2.25},{"t":9,"i":10,"x":1.44,"y":-1.96},{"t":9,"i":11,"x":1.58,"y":-1.5},{"t":9,"i":12,"x":1.65,"y":-1.0},{"t":9,"i":13,"x":1.7,"y":-0.5},{"t":9,"i":14,"x":1.72,"y":-0.06},{"t":9,"i":15,"x":1.72,"y":0.45},{"t":9,"i":16,"x":1.72,"y":0.9},
{"t":10,"i":0,"x":-4,"y":-2},{"t":10,"i":1,"x":-3.7,"y":-2.15},{"t":10,"i":2,"x":-3.43,"y":-2.25},{"t":10,"i":3,"x":-3.1,"y":-2.32},{"t":10,"i":4,"x":-2.75,"y":-2.35},{"t":10,"i":5,"x":-2.45,"y":-2.15},{"t":10,"i":6,"x":-2.2,"y":-1.96},{"t":10,"i":7,"x":-1.85,"y":-1.85},{"t":10,"i":8,"x":-1.52,"y":-1.77},{"t":10,"i":9,"x":-1.0,"y":-1.72},{"t":10,"i":10,"x":-0.48,"y":-1.68},{"t":10,"i":11,"x":0.1,"y":-1.63},{"t":10,"i":12,"x":0.61,"y":-1.58},{"t":10,"i":13,"x":1.0,"y":-1.5},{"t":10,"i":14,"x":1.3,"y":-1.39},
{"t":11,"i":0,"x":-4,"y":0},{"t":11,"i":1,"x":-3.78,"y":-0.2},{"t":11,"i":2,"x":-3.56,"y":-0.44},{"t":11,"i":3,"x":-3.28,"y":-0.7},{"t":11,"i":4,"x":-3.0,"y":-1.0},{"t":11,"i":5,"x":-2.75,"y":-1.4},{"t":11,"i":6,"x":-2.47,"y":-1.77},{"t":11,"i":7,"x":-2.15,"y":-1.92},{"t":11,"i":8,"x":-1.8,"y":-1.96},{"t":11,"i":9,"x":-1.4,"y":-1.93},{"t":11,"i":10,"x":-0.97,"y":-1.87},{"t":11,"i":11,"x":-0.5,"y":-1.82},{"t":11,"i":12,"x":-0.07,"y":-1.77},{"t":11,"i":13,"x":0.4,"y":-1.72},{"t":11,"i":14,"x":0.89,"y":-1.68},
{"t":12,"i":0,"x":-4,"y":2},{"t":12,"i":1,"x":-3.7,"y":1.9},{"t":12,"i":2,"x":-3.43,"y":1.76},{"t":12,"i":3,"x":-3.15,"y":1.5},{"t":12,"i":4,"x":-2.88,"y":1.18},{"t":12,"i":5,"x":-2.68,"y":0.65},{"t":12,"i":6,"x":-2.47,"y":0.13},{"t":12,"i":7,"x":-2.33,"y":-0.35},{"t":12,"i":8,"x":-2.2,"y":-0.82},{"t":12,"i":9,"x":-2.0,"y":-1.15},{"t":12,"i":10,"x":-1.8,"y":-1.39},{"t":12,"i":11,"x":-1.4,"y":-1.5},{"t":12,"i":12,"x":-0.97,"y":-1.58},{"t":12,"i":13,"x":-0.5,"y":-1.6},{"t":12,"i":14,"x":-0.07,"y":-1.58},{"t":12,"i":15,"x":0.5,"y":-1.5},{"t":12,"i":16,"x":1.16,"y":-1.39}
],
"ec": [
{"k":1,"i":0,"x":-1.35,"y":1.55},{"k":1,"i":1,"x":-0.5,"y":1.78},{"k":1,"i":2,"x":0.5,"y":1.88},{"k":1,"i":3,"x":1.4,"y":1.85},{"k":1,"i":4,"x":1.68,"y":1.4},{"k":1,"i":5,"x":1.62,"y":0.5},{"k":1,"i":6,"x":1.56,"y":-0.2},{"k":1,"i":7,"x":1.45,"y":-1.0},{"k":1,"i":8,"x":1.15,"y":-1.5},{"k":1,"i":9,"x":0.5,"y":-1.38},{"k":1,"i":10,"x":-0.3,"y":-1.22},{"k":1,"i":11,"x":-1.1,"y":-1.12},{"k":1,"i":12,"x":-1.38,"y":-0.7},{"k":1,"i":13,"x":-1.47,"y":0.2},{"k":1,"i":14,"x":-1.52,"y":0.95},{"k":1,"i":15,"x":-1.35,"y":1.55},
{"k":2,"i":0,"x":-1.2,"y":1.4},{"k":2,"i":1,"x":-0.5,"y":1.6},{"k":2,"i":2,"x":0.5,"y":1.7},{"k":2,"i":3,"x":1.3,"y":1.65},{"k":2,"i":4,"x":1.5,"y":1.3},{"k":2,"i":5,"x":1.45,"y":0.5},{"k":2,"i":6,"x":1.4,"y":-0.2},{"k":2,"i":7,"x":1.3,"y":-0.9},{"k":2,"i":8,"x":1.05,"y":-1.3},{"k":2,"i":9,"x":0.5,"y":-1.2},{"k":2,"i":10,"x":-0.3,"y":-1.05},{"k":2,"i":11,"x":-1.0,"y":-0.95},{"k":2,"i":12,"x":-1.2,"y":-0.6},{"k":2,"i":13,"x":-1.3,"y":0.2},{"k":2,"i":14,"x":-1.35,"y":0.9},{"k":2,"i":15,"x":-1.2,"y":1.4},
{"k":3,"i":0,"x":-1.02,"y":1.22},{"k":3,"i":1,"x":-0.45,"y":1.42},{"k":3,"i":2,"x":0.45,"y":1.5},{"k":3,"i":3,"x":1.15,"y":1.45},{"k":3,"i":4,"x":1.3,"y":1.15},{"k":3,"i":5,"x":1.27,"y":0.5},{"k":3,"i":6,"x":1.22,"y":-0.15},{"k":3,"i":7,"x":1.12,"y":-0.75},{"k":3,"i":8,"x":0.92,"y":-1.08},{"k":3,"i":9,"x":0.45,"y":-1.0},{"k":3,"i":10,"x":-0.3,"y":-0.86},{"k":3,"i":11,"x":-0.85,"y":-0.77},{"k":3,"i":12,"x":-1.03,"y":-0.5},{"k":3,"i":13,"x":-1.12,"y":0.2},{"k":3,"i":14,"x":-1.17,"y":0.85},{"k":3,"i":15,"x":-1.02,"y":1.22}
],
"f": [
{"t":1,"i":0,"x":-2,"y":4},{"t":1,"i":1,"x":-2.02,"y":2.0},{"t":1,"i":2,"x":-2.05,"y":0.0},{"t":1,"i":3,"x":-2.1,"y":-1.0},{"t":1,"i":4,"x":-2.08,"y":-1.4},{"t":1,"i":5,"x":-2.05,"y":-1.75},{"t":1,"i":6,"x":-2.0,"y":-2.1},
{"t":2,"i":0,"x":0,"y":4},{"t":2,"i":1,"x":-0.05,"y":2.0},{"t":2,"i":2,"x":-0.08,"y":0.5},{"t":2,"i":3,"x":-0.1,"y":0.1},{"t":2,"i":4,"x":-0.12,"y":-0.3},{"t":2,"i":5,"x":-0.15,"y":-0.75},{"t":2,"i":6,"x":-0.15,"y":-1.2},{"t":2,"i":7,"x":-0.17,"y":-1.6},{"t":2,"i":8,"x":-0.2,"y":-2.1},{"t":2,"i":9,"x":0.4,"y":-2.0},{"t":2,"i":10,"x":1.0,"y":-1.9},{"t":2,"i":11,"x":1.6,"y":-1.78},{"t":2,"i":12,"x":2.1,"y":-1.68},
{"t":3,"i":0,"x":2,"y":4},{"t":3,"i":1,"x":1.98,"y":2.5},{"t":3,"i":2,"x":1.95,"y":1.0},{"t":3,"i":3,"x":1.9,"y":0.5},{"t":3,"i":4,"x":1.88,"y":-0.2},{"t":3,"i":5,"x":1.87,"y":-0.7},{"t":3,"i":6,"x":1.9,"y":-1.2},{"t":3,"i":7,"x":1.95,"y":-1.55},{"t":3,"i":8,"x":2.1,"y":-1.65},
{"t":4,"i":0,"x":4,"y":2},{"t":4,"i":1,"x":3.75,"y":1.7},{"t":4,"i":2,"x":3.5,"y":1.3},{"t":4,"i":3,"x":3.25,"y":0.9},{"t":4,"i":4,"x":3.0,"y":0.55},{"t":4,"i":5,"x":2.8,"y":0.2},{"t":4,"i":6,"x":2.65,"y":-0.2},{"t":4,"i":7,"x":2.5,"y":-0.7},{"t":4,"i":8,"x":2.42,"y":-1.1},{"t":4,"i":9,"x":2.35,"y":-1.45},
{"t":5,"i":0,"x":4,"y":0},{"t":5,"i":1,"x":3.65,"y":-0.1},{"t":5,"i":2,"x":3.4,"y":-0.25},{"t":5,"i":3,"x":3.15,"y":-0.45},{"t":5,"i":4,"x":2.95,"y":-0.7},{"t":5,"i":5,"x":2.75,"y":-1.0},{"t":5,"i":6,"x":2.55,"y":-1.3},{"t":5,"i":7,"x":2.4,"y":-1.55},
{"t":6,"i":0,"x":4,"y":-2},{"t":6,"i":1,"x":3.7,"y":-1.75},{"t":6,"i":2,"x":3.45,"y":-1.55},{"t":6,"i":3,"x":3.15,"y":-1.45},{"t":6,"i":4,"x":2.85,"y":-1.45},{"t":6,"i":5,"x":2.6,"y":-1.5},{"t":6,"i":6,"x":2.4,"y":-1.58},
{"t":7,"i":0,"x":2,"y":-4},{"t":7,"i":1,"x":2.03,"y":-2.8},{"t":7,"i":2,"x":2.05,"y":-2.0},{"t":7,"i":3,"x":2.08,"y":-1.75},
{"t":8,"i":0,"x":0,"y":-4},{"t":8,"i":1,"x":0.02,"y":-2.8},{"t":8,"i":2,"x":0.04,"y":-2.0},{"t":8,"i":3,"x":0.05,"y":-1.75},
{"t":9,"i":0,"x":-2,"y":-4},{"t":9,"i":1,"x":-1.95,"y":-2.8},{"t":9,"i":2,"x":-1.9,"y":-2.1},{"t":9,"i":3,"x":-1.88,"y":-1.85},
{"t":10,"i":0,"x":-4,"y":-2},{"t":10,"i":1,"x":-3.6,"y":-2.4},{"t":10,"i":2,"x":-3.2,"y":-2.52},{"t":10,"i":3,"x":-2.8,"y":-2.5},{"t":10,"i":4,"x":-2.5,"y":-2.45},
{"t":11,"i":0,"x":-4,"y":0},{"t":11,"i":1,"x":-3.7,"y":-0.85},{"t":11,"i":2,"x":-3.4,"y":-1.45},{"t":11,"i":3,"x":-3.1,"y":-1.9},{"t":11,"i":4,"x":-2.8,"y":-2.25},{"t":11,"i":5,"x":-2.5,"y":-2.4},
{"t":12,"i":0,"x":-4,"y":2},{"t":12,"i":1,"x":-3.65,"y":0.9},{"t":12,"i":2,"x":-3.35,"y":0.05},{"t":12,"i":3,"x":-3.05,"y":-0.9},{"t":12,"i":4,"x":-2.75,"y":-1.65},{"t":12,"i":5,"x":-2.5,"y":-2.05},{"t":12,"i":6,"x":-2.2,"y":-2.3}
],
"fc": [
{"k":1,"i":0,"x":0.25,"y":0.35},{"k":1,"i":1,"x":0.2,"y":0.52},{"k":1,"i":2,"x":0.0,"y":0.45},{"k":1,"i":3,"x":-0.5,"y":0.02},{"k":1,"i":4,"x":-1.0,"y":-0.42},{"k":1,"i":5,"x":-1.28,"y":-0.7},{"k":1,"i":6,"x":-1.05,"y":-0.82},{"k":1,"i":7,"x":-0.45,"y":-0.45},{"k":1,"i":8,"x":0.2,"y":0.1},{"k":1,"i":9,"x":0.7,"y":0.7},{"k":1,"i":10,"x":1.1,"y":1.32},{"k":1,"i":11,"x":1.45,"y":1.32},{"k":1,"i":12,"x":1.7,"y":0.9},{"k":1,"i":13,"x":1.86,"y":0.3},{"k":1,"i":14,"x":1.93,"y":-0.5},{"k":1,"i":15,"x":1.85,"y":-0.95},{"k":1,"i":16,"x":1.6,"y":-1.1},{"k":1,"i":17,"x":0.5,"y":-1.15},{"k":1,"i":18,"x":-0.5,"y":-1.15},{"k":1,"i":19,"x":-1.3,"y":-1.12},{"k":1,"i":20,"x":-1.9,"y":-0.95},{"k":1,"i":21,"x":-2.05,"y":-0.3},{"k":1,"i":22,"x":-2.1,"y":0.5},{"k":1,"i":23,"x":-2.08,"y":0.88},{"k":1,"i":24,"x":-1.9,"y":1.0},{"k":1,"i":25,"x":-1.0,"y":1.3},{"k":1,"i":26,"x":0.0,"y":1.6},{"k":1,"i":27,"x":1.0,"y":1.87},{"k":1,"i":28,"x":1.45,"y":1.97},{"k":1,"i":29,"x":1.68,"y":1.82},{"k":1,"i":30,"x":1.9,"y":0.9},{"k":1,"i":31,"x":2.1,"y":-0.1},{"k":1,"i":32,"x":2.28,"y":-1.0},{"k":1,"i":33,"x":2.35,"y":-1.5},{"k":1,"i":34,"x":2.1,"y":-1.66},{"k":1,"i":35,"x":1.0,"y":-1.45},{"k":1,"i":36,"x":0.0,"y":-1.3},{"k":1,"i":37,"x":-1.0,"y":-1.2},{"k":1,"i":38,"x":-1.89,"y":-1.05},
{"k":2,"i":0,"x":-2.9,"y":-2.5},{"k":2,"i":1,"x":-2.5,"y":-2.42},{"k":2,"i":2,"x":-1.5,"y":-2.3},{"k":2,"i":3,"x":-0.5,"y":-2.15},{"k":2,"i":4,"x":0.0,"y":-2.1}
]
},
"vconcat": [
{
"hconcat": [
{
 "width": 188, "height": 142, "title": "(a) Damped EG", "data": {"name": "a"},
 "encoding": {
  "x": {"field": "x", "type": "quantitative", "title": null, "scale": {"domain": [-2, 2], "nice": false}, "axis": {"values": [-2,-1.5,-1,-0.5,0,0.5,1,1.5,2]}},
  "y": {"field": "y", "type": "quantitative", "title": null, "scale": {"domain": [-2, 2], "nice": false}, "axis": {"values": [-2,-1.5,-1,-0.5,0,0.5,1,1.5,2]}}
 },
 "layer": [
  {"mark": {"type": "line", "interpolate": "catmull-rom", "strokeWidth": 0.9},
   "encoding": {"detail": {"field": "t"}, "order": {"field": "i"},
    "color": {"datum": "Trajectories", "scale": {"domain": ["Initialization", "Trajectories"], "range": ["#000000", "#ff0000"]},
     "legend": {"title": null, "orient": "top-right", "offset": 3, "fillColor": "white", "strokeColor": "#000000", "padding": 2, "labelFont": "Liberation Serif", "labelFontSize": 6.5, "labelColor": "#000000", "rowPadding": 0, "labelOffset": 4,
      "encode": {"symbols": {"update": {"shape": {"signal": "datum.value === 'Trajectories' ? 'stroke' : 'M0,-1L0.24,-0.33L0.95,-0.31L0.38,0.12L0.59,0.81L0,0.4L-0.59,0.81L-0.38,0.12L-0.95,-0.31L-0.24,-0.33Z'"}, "stroke": {"signal": "datum.value === 'Trajectories' ? '#ff0000' : '#000000'"}, "fill": {"signal": "datum.value === 'Trajectories' ? 'transparent' : '#000000'"}, "size": {"signal": "datum.value === 'Trajectories' ? 200 : 12"}, "strokeWidth": {"value": 1}}}}}}}},
  {"transform": [{"filter": "datum.i > 0 && datum.t <= 16"}], "mark": {"type": "point", "shape": "triangle", "filled": true, "size": 7, "color": "#ff0000", "opacity": 1}},
  {"transform": [{"filter": "datum.i == 0 && datum.t <= 16"}], "mark": {"type": "point", "shape": "M0,-1L0.24,-0.33L0.95,-0.31L0.38,0.12L0.59,0.81L0,0.4L-0.59,0.81L-0.38,0.12L-0.95,-0.31L-0.24,-0.33Z", "filled": true, "size": 28, "opacity": 1},
   "encoding": {"color": {"datum": "Initialization"}}}
 ]
},
{
 "width": 188, "height": 142, "title": "(b) CurvatureEG+", "data": {"name": "b"},
 "encoding": {
  "x": {"field": "x", "type": "quantitative", "title": null, "scale": {"domain": [-2, 2], "nice": false}, "axis": {"values": [-2,-1.5,-1,-0.5,0,0.5,1,1.5,2]}},
  "y": {"field": "y", "type": "quantitative", "title": null, "scale": {"domain": [-2, 2], "nice": false}, "axis": {"values": [-2,-1.5,-1,-0.5,0,0.5,1,1.5,2]}}
 },
 "layer": [
  {"mark": {"type": "line", "interpolate": "catmull-rom", "strokeWidth": 0.9},
   "encoding": {"detail": {"field": "t"}, "order": {"field": "i"},
    "color": {"datum": "Trajectories", "scale": {"domain": ["Initialization", "Trajectories"], "range": ["#000000", "#ff0000"]},
     "legend": {"title": null, "orient": "top-right", "offset": 3, "fillColor": "white", "strokeColor": "#000000", "padding": 2, "labelFont": "Liberation Serif", "labelFontSize": 6.5, "labelColor": "#000000", "rowPadding": 0, "labelOffset": 4,
      "encode": {"symbols": {"update": {"shape": {"signal": "datum.value === 'Trajectories' ? 'stroke' : 'M0,-1L0.24,-0.33L0.95,-0.31L0.38,0.12L0.59,0.81L0,0.4L-0.59,0.81L-0.38,0.12L-0.95,-0.31L-0.24,-0.33Z'"}, "stroke": {"signal": "datum.value === 'Trajectories' ? '#ff0000' : '#000000'"}, "fill": {"signal": "datum.value === 'Trajectories' ? 'transparent' : '#000000'"}, "size": {"signal": "datum.value === 'Trajectories' ? 200 : 12"}, "strokeWidth": {"value": 1}}}}}}}},
  {"transform": [{"filter": "datum.i > 0 && datum.t <= 16"}], "mark": {"type": "point", "shape": "triangle", "filled": true, "size": 7, "color": "#ff0000", "opacity": 1}},
  {"transform": [{"filter": "datum.i == 0 && datum.t <= 16"}], "mark": {"type": "point", "shape": "M0,-1L0.24,-0.33L0.95,-0.31L0.38,0.12L0.59,0.81L0,0.4L-0.59,0.81L-0.38,0.12L-0.95,-0.31L-0.24,-0.33Z", "filled": true, "size": 28, "opacity": 1},
   "encoding": {"color": {"datum": "Initialization"}}}
 ]
},
{
 "width": 188, "height": 142, "title": "(c) Doubly Smoothed GDA", "data": {"name": "c"},
 "encoding": {
  "x": {"field": "x", "type": "quantitative", "title": null, "scale": {"domain": [-2, 2], "nice": false}, "axis": {"values": [-2,-1.5,-1,-0.5,0,0.5,1,1.5,2]}},
  "y": {"field": "y", "type": "quantitative", "title": null, "scale": {"domain": [-2, 2], "nice": false}, "axis": {"values": [-2,-1.5,-1,-0.5,0,0.5,1,1.5,2]}}
 },
 "layer": [
  {"mark": {"type": "line", "interpolate": "catmull-rom", "strokeWidth": 0.9},
   "encoding": {"detail": {"field": "t"}, "order": {"field": "i"},
    "color": {"datum": "Trajectories", "scale": {"domain": ["Initialization", "Trajectories"], "range": ["#000000", "#ff0000"]},
     "legend": {"title": null, "orient": "top-right", "offset": 3, "fillColor": "white", "strokeColor": "#000000", "padding": 2, "labelFont": "Liberation Serif", "labelFontSize": 6.5, "labelColor": "#000000", "rowPadding": 0, "labelOffset": 4,
      "encode": {"symbols": {"update": {"shape": {"signal": "datum.value === 'Trajectories' ? 'stroke' : 'M0,-1L0.24,-0.33L0.95,-0.31L0.38,0.12L0.59,0.81L0,0.4L-0.59,0.81L-0.38,0.12L-0.95,-0.31L-0.24,-0.33Z'"}, "stroke": {"signal": "datum.value === 'Trajectories' ? '#ff0000' : '#000000'"}, "fill": {"signal": "datum.value === 'Trajectories' ? 'transparent' : '#000000'"}, "size": {"signal": "datum.value === 'Trajectories' ? 200 : 12"}, "strokeWidth": {"value": 1}}}}}}}},
  {"transform": [{"filter": "datum.i > 0 && datum.t <= 16"}], "mark": {"type": "point", "shape": "triangle", "filled": true, "size": 7, "color": "#ff0000", "opacity": 1}},
  {"transform": [{"filter": "datum.i == 0 && datum.t <= 16"}], "mark": {"type": "point", "shape": "M0,-1L0.24,-0.33L0.95,-0.31L0.38,0.12L0.59,0.81L0,0.4L-0.59,0.81L-0.38,0.12L-0.95,-0.31L-0.24,-0.33Z", "filled": true, "size": 28, "opacity": 1},
   "encoding": {"color": {"datum": "Initialization"}}}
 ]
}
],
"spacing": 13,
"resolve": {"scale": {"color": "independent"}, "legend": {"color": "independent"}}
},
{
"hconcat": [
{
 "width": 191, "height": 139, "title": "(d) Damped EG", "view": {"stroke": "#777777"},
 "encoding": {
  "x": {"field": "x", "type": "quantitative", "title": null, "scale": {"domain": [-4, 4], "nice": false}, "axis": {"values": [-4,-3,-2,-1,0,1,2,3,4]}},
  "y": {"field": "y", "type": "quantitative", "title": null, "scale": {"domain": [-4, 4], "nice": false}, "axis": {"values": [-4,-3,-2,-1,0,1,2,3,4]}}
 },
 "layer": [
  {"data": {"name": "d"}, "mark": {"type": "line", "interpolate": "catmull-rom", "strokeWidth": 3.6, "color": "#222222"},
   "encoding": {"detail": {"field": "t"}, "order": {"field": "i"}}},
  {"data": {"name": "d"}, "mark": {"type": "line", "interpolate": "catmull-rom", "strokeWidth": 2.4},
   "encoding": {"detail": {"field": "t"}, "order": {"field": "i"},
    "color": {"field": "t", "type": "nominal", "legend": null, "scale": {"domain": [1,2,3,4,5,6,7,8,9,10,11,12], "range": ["#fdbf6f","#1f78b4","#33a02c","#ff7f00","#6a3d9a","#fb9a99","#ffff99","#e31a1c","#b2df8a","#a6cee3","#b15928","#fb9a99"]}}}},
  {"data": {"name": "dc"}, "mark": {"type": "line", "interpolate": "catmull-rom", "strokeWidth": 4.5, "color": "#111111"},
   "encoding": {"detail": {"field": "k"}, "order": {"field": "i"}}},
  {"data": {"name": "dc"}, "mark": {"type": "line", "interpolate": "catmull-rom", "strokeWidth": 2.6, "color": "#ff7f00"},
   "encoding": {"detail": {"field": "k"}, "order": {"field": "i"}}},
  {"data": {"name": "dc"}, "mark": {"type": "line", "interpolate": "catmull-rom", "strokeWidth": 1.2, "color": "#000000", "strokeDash": [1, 2.5]},
   "encoding": {"detail": {"field": "k"}, "order": {"field": "i"}}}
 ]
},
{
 "width": 191, "height": 139, "title": "(e) CurvatureEG+", "view": {"stroke": "#777777"},
 "encoding": {
  "x": {"field": "x", "type": "quantitative", "title": null, "scale": {"domain": [-4, 4], "nice": false}, "axis": {"values": [-4,-3,-2,-1,0,1,2,3,4]}},
  "y": {"field": "y", "type": "quantitative", "title": null, "scale": {"domain": [-4, 4], "nice": false}, "axis": {"values": [-4,-3,-2,-1,0,1,2,3,4]}}
 },
 "layer": [
  {"data": {"name": "e"}, "mark": {"type": "line", "interpolate": "catmull-rom", "strokeWidth": 1.2},
   "encoding": {"detail": {"field": "t"}, "order": {"field": "i"},
    "color": {"field": "t", "type": "nominal", "legend": null, "scale": {"domain": [1,2,3,4,5,6,7,8,9,10,11,12], "range": ["#fdbf6f","#1f78b4","#33a02c","#ff7f00","#6a3d9a","#fb9a99","#ffff99","#e31a1c","#b2df8a","#a6cee3","#b15928","#fb9a99"]}}}},
  {"data": {"name": "e"}, "mark": {"type": "point", "filled": true, "size": 13, "stroke": "#333333", "strokeWidth": 0.4, "opacity": 1},
   "encoding": {"color": {"field": "t", "type": "nominal", "legend": null}}},
  {"data": {"name": "ec"}, "mark": {"type": "line", "interpolate": "catmull-rom", "strokeWidth": 4.5, "color": "#ff7f00"},
   "encoding": {"detail": {"field": "k"}, "order": {"field": "i"}}},
  {"data": {"name": "ec"}, "mark": {"type": "line", "interpolate": "catmull-rom", "strokeWidth": 1.5, "color": "#000000", "strokeDash": [1, 2]},
   "encoding": {"detail": {"field": "k"}, "order": {"field": "i"}}}
 ]
},
{
 "width": 191, "height": 139, "title": "(f) Doubly Smoothed GDA", "view": {"stroke": "#777777"},
 "encoding": {
  "x": {"field": "x", "type": "quantitative", "title": null, "scale": {"domain": [-4, 4], "nice": false}, "axis": {"values": [-4,-3,-2,-1,0,1,2,3,4]}},
  "y": {"field": "y", "type": "quantitative", "title": null, "scale": {"domain": [-4, 4], "nice": false}, "axis": {"values": [-4,-3,-2,-1,0,1,2,3,4]}}
 },
 "layer": [
  {"data": {"name": "fc"}, "mark": {"type": "line", "interpolate": "catmull-rom", "strokeWidth": 4.2, "color": "#111111"},
   "encoding": {"detail": {"field": "k"}, "order": {"field": "i"}}},
  {"data": {"name": "fc"}, "mark": {"type": "line", "interpolate": "catmull-rom", "strokeWidth": 2, "color": "#ff8c1a", "strokeDash": [2, 2]},
   "encoding": {"detail": {"field": "k"}, "order": {"field": "i"}}},
  {"data": {"name": "f"}, "mark": {"type": "line", "strokeWidth": 1},
   "encoding": {"detail": {"field": "t"}, "order": {"field": "i"},
    "color": {"field": "t", "type": "nominal", "legend": null, "scale": {"domain": [1,2,3,4,5,6,7,8,9,10,11,12], "range": ["#fdbf6f","#1f78b4","#33a02c","#ff7f00","#6a3d9a","#fb9a99","#ffff99","#e31a1c","#b2df8a","#a6cee3","#b15928","#fb9a99"]}}}},
  {"data": {"name": "f"}, "mark": {"type": "point", "filled": true, "size": 14, "stroke": "#333333", "strokeWidth": 0.4, "opacity": 1},
   "encoding": {"color": {"field": "t", "type": "nominal", "legend": null}}}
 ]
}
],
"spacing": 8,
"resolve": {"scale": {"color": "independent"}, "legend": {"color": "independent"}}
}
],
"spacing": 2,
"resolve": {"scale": {"color": "independent"}, "legend": {"color": "independent"}}
}
